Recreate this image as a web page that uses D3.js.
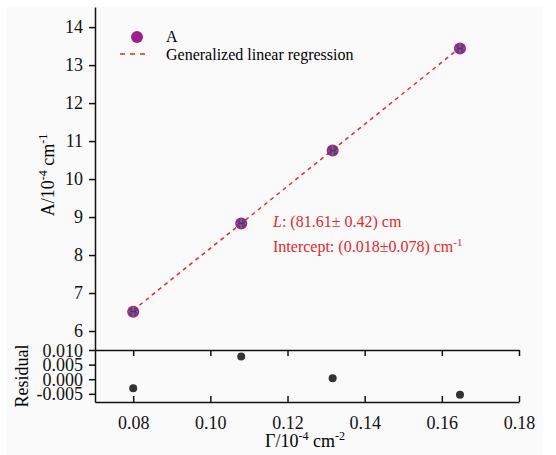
<!DOCTYPE html>
<html>
<head>
<meta charset="utf-8">
<script src="https://cdn.jsdelivr.net/npm/d3@7"></script>
<style>
  body { margin: 0; background: #fff; }
  svg text { font-family: 'Liberation Serif', 'Times New Roman', serif; }
</style>
</head>
<body>
<svg width="556" height="455" font-family="Liberation Serif, serif"></svg>
<script>
const gammaValues = [0.0800, 0.1080, 0.1317, 0.1647];
const absorbValues = [6.51, 8.83, 10.75, 13.44];
const residualValues = [-0.0031, 0.0078, 0.0003, -0.0053];
const fitSlope = 81.61;
const fitIntercept = 0.018;
const xTicks = [0.08, 0.10, 0.12, 0.14, 0.16, 0.18];
const yTicks = [6, 7, 8, 9, 10, 11, 12, 13, 14];
const residualTicks = [0.010, 0.005, 0.000, -0.005];

const purple = '#a01f8e';
const red = '#e8262b';
const dark = '#333';

const svg = d3.select('svg');

svg.append('rect')
  .attr('x', 7).attr('y', 7)
  .attr('width', 536).attr('height', 448)
  .attr('fill', '#fafafa');

const xScale = d3.scaleLinear([0.0701, 0.18], [95, 519]);
const yScale = d3.scaleLinear([5.5, 14.53], [350, 7]);
const rScale = d3.scaleLinear([-0.0078, 0.010], [402, 350]);

const fmt = d3.formatLocale({decimal: '.', thousands: ',', grouping: [3], currency: ['', ''], minus: '-'});

function styleAxis(g) {
  g.attr('font-family', 'Liberation Serif, serif');
  g.selectAll('path').attr('stroke', '#111').attr('stroke-width', 1.5);
  g.selectAll('line').attr('stroke', '#111').attr('stroke-width', 1.5);
  g.selectAll('text')
    .style('font-family', "'Liberation Serif', serif")
    .style('font-size', '18px')
    .attr('fill', '#111');
}

// upper panel axes
svg.append('g')
  .attr('transform', 'translate(95, 0)')
  .call(d3.axisLeft(yScale).tickValues(yTicks).tickSize(6).tickSizeOuter(0).tickPadding(6))
  .call(styleAxis);

svg.append('g')
  .attr('transform', 'translate(0, 350)')
  .call(d3.axisTop(xScale).tickValues(xTicks).tickSize(-6).tickSizeOuter(0).tickFormat(''))
  .call(styleAxis);

// residual panel axes
svg.append('g')
  .attr('transform', 'translate(95, 0)')
  .call(d3.axisLeft(rScale).tickValues(residualTicks).tickSize(6).tickSizeOuter(0).tickPadding(6)
    .tickFormat(fmt.format('.3f')))
  .call(styleAxis)
  .selectAll('text').attr('dy', '0.34em');

svg.append('g')
  .attr('transform', 'translate(0, 402)')
  .call(d3.axisBottom(xScale).tickValues(xTicks).tickSize(-6).tickSizeOuter(0).tickPadding(14)
    .tickFormat(d3.format('.2f')))
  .call(styleAxis);

// regression line
const fitLine = d3.line()
  .x((d) => xScale(d))
  .y((d) => yScale(fitIntercept + fitSlope * d));

svg.append('path')
  .attr('d', fitLine([gammaValues[0], gammaValues[gammaValues.length - 1]]))
  .attr('fill', 'none')
  .attr('stroke', red)
  .attr('stroke-width', 1.5)
  .attr('stroke-dasharray', '4,4');

// data markers
const points = gammaValues.map((g, i) => ({g, a: absorbValues[i], r: residualValues[i]}));

const marks = svg.append('g').selectAll('g')
  .data(points)
  .join('g')
    .attr('transform', (d) => `translate(${xScale(d.g)}, ${yScale(d.a)})`);

marks.append('circle')
  .attr('r', 6)
  .attr('fill', purple);
marks.append('line')
  .attr('x1', 0).attr('x2', 0).attr('y1', -5).attr('y2', 5)
  .attr('stroke', '#3a9a3a').attr('stroke-width', 1.5);
marks.append('line')
  .attr('x1', -5).attr('x2', 5).attr('y1', 0).attr('y2', 0)
  .attr('stroke', '#3a9a3a').attr('stroke-width', 1.5);
marks.append('line')
  .attr('x1', -3).attr('x2', 3).attr('y1', 0).attr('y2', 0)
  .attr('stroke', '#3030b0').attr('stroke-width', 1.5);

// residual markers
svg.append('g').selectAll('circle')
  .data(points)
  .join('circle')
    .attr('cx', (d) => xScale(d.g))
    .attr('cy', (d) => rScale(d.r))
    .attr('r', 4)
    .attr('fill', dark);

// legend
svg.append('circle')
  .attr('cx', 137).attr('cy', 37).attr('r', 6)
  .attr('fill', purple);
svg.append('text')
  .text('A')
  .attr('x', 166).attr('y', 42)
  .style('font-size', '16px');
svg.append('line')
  .attr('x1', 120).attr('x2', 149).attr('y1', 54).attr('y2', 54)
  .attr('stroke', red).attr('stroke-width', 1.5)
  .attr('stroke-dasharray', '5,5');
svg.append('text')
  .text('Generalized linear regression')
  .attr('x', 166).attr('y', 60)
  .style('font-size', '16px');

// annotation
const noteL = svg.append('text')
  .attr('x', 273).attr('y', 227)
  .attr('fill', red)
  .style('font-size', '16px');
noteL.append('tspan').text('L').style('font-style', 'italic');
noteL.append('tspan').text(': (81.61\u00b1 0.42) cm');

const noteI = svg.append('text')
  .attr('x', 273).attr('y', 252)
  .attr('fill', red)
  .style('font-size', '16px');
noteI.append('tspan').text('Intercept: (0.018\u00b10.078) cm');
noteI.append('tspan').text('-1').attr('dy', -6).style('font-size', '11px');

// axis titles
const yTitle = svg.append('text')
  .attr('transform', 'translate(54, 175) rotate(-90)')
  .attr('text-anchor', 'middle')
  .style('font-size', '18px');
yTitle.append('tspan').text('A/10');
yTitle.append('tspan').text('-4').attr('dy', -7).style('font-size', '12px');
yTitle.append('tspan').text(' cm').attr('dy', 7);
yTitle.append('tspan').text('-1').attr('dy', -7).style('font-size', '12px');

svg.append('text')
  .text('Residual')
  .attr('transform', 'translate(28, 376) rotate(-90)')
  .attr('text-anchor', 'middle')
  .style('font-size', '18px');

const xTitle = svg.append('text')
  .attr('x', 305).attr('y', 447)
  .attr('text-anchor', 'middle')
  .style('font-size', '18px');
xTitle.append('tspan').text('\u0393/10');
xTitle.append('tspan').text('-4').attr('dy', -7).style('font-size', '12px');
xTitle.append('tspan').text(' cm').attr('dy', 7);
xTitle.append('tspan').text('-2').attr('dy', -7).style('font-size', '12px');
</script>
</body>
</html>
